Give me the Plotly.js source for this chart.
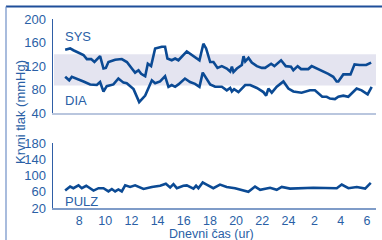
<!DOCTYPE html>
<html>
<head>
<meta charset="utf-8">
<script src="https://cdn.plot.ly/plotly-3.0.1.min.js"></script>
<style>html,body{margin:0;padding:0;background:#fff}#chart{width:382px;height:240px}</style>
</head>
<body>
<div id="chart"></div>
<script>
// Hour of day (continuous: 24+ means after midnight)
const sysHours = [6.93,7.31,7.56,7.75,8.0,8.33,8.59,8.92,9.17,9.43,9.6,9.86,10.04,10.24,10.75,11.26,11.65,12.03,12.28,12.54,12.74,13.05,13.25,13.5,13.81,14.32,14.57,14.75,15.08,15.34,15.59,16.23,16.74,17.2,17.5,17.71,18.02,18.27,18.58,18.91,19.29,19.55,19.68,19.8,20.06,20.44,20.57,20.7,20.95,21.2,21.59,21.97,22.22,22.47,22.68,22.93,23.44,23.8,24.2,24.38,24.71,24.97,25.52,25.78,26.29,27.05,27.43,27.69,27.82,28.2,28.5,28.75,29.06,29.44,29.95,30.33];
const sysValues = [148,150,147,145,143,139,132,132,127,133,137,116,117,127,131,132,127,116,109,113,107,103,124,120,150,153,153,133,130,133,130,145,137,130,158,150,127,127,117,120,116,111,119,110,116,122,137,128,134,126,120,117,117,121,124,120,130,120,119,113,120,115,115,120,115,107,102,94,94,106,106,106,123,122,122,126];

const diaHours = [6.93,7.24,7.44,7.82,8.33,8.84,9.35,9.6,9.86,10.11,10.62,11.0,11.39,11.64,12.16,12.59,13.05,13.56,13.81,14.19,14.57,14.83,15.08,15.34,15.59,16.09,16.48,16.86,17.2,17.45,17.71,18.02,18.4,18.91,19.29,19.55,19.68,19.85,20.18,20.7,21.08,21.59,22.09,22.3,22.47,22.73,23.11,23.62,24.0,24.38,25.01,25.65,26.03,26.59,26.93,27.18,27.56,27.82,28.2,28.58,29.22,29.6,30.06,30.37];
const diaValues = [102,96,102,99,94,89,88,93,77,86,89,99,92,91,81,59,70,96,91,94,103,85,88,85,89,99,93,90,85,109,99,89,85,85,79,83,77,81,76,88,88,83,76,70,82,75,85,94,82,77,75,79,79,68,68,65,64,68,70,68,82,79,72,85];

const pulseHours = [6.93,7.31,7.56,7.95,8.2,8.54,9.1,9.48,9.86,10.24,10.5,10.75,11.0,11.26,11.52,11.9,12.28,12.92,13.56,14.19,14.63,14.96,15.21,15.47,15.97,16.23,16.74,16.94,17.12,17.45,17.75,18.26,18.77,19.28,19.92,20.43,20.94,21.45,21.84,22.6,23.11,23.49,24.13,25.91,27.7,28.08,28.59,29.23,29.87,30.3];
const pulseValues = [63,73,69,76,69,75,63,69,69,61,67,61,66,61,76,72,76,67,72,75,80,71,79,69,75,76,68,75,69,83,78,69,78,72,69,64,60,73,65,70,65,72,68,70,69,78,69,72,68,82];

const tickVals = [8,10,12,14,16,18,20,22,24,26,28,30];
const tickText = ['8','10','12','14','16','18','20','22','24','2','4','6'];
const bandLow = 87, bandHigh = 140;

const lineColor = '#0b4a94';
const textColor = '#2a5fa6';
const fontFam = '"Liberation Sans Narrow", "Arial Narrow", "Liberation Sans", sans-serif';

const ln = {color: lineColor, width: 2.6};
const traces = [
  {x: sysHours, y: sysValues, xaxis: 'x', yaxis: 'y', mode: 'lines', line: ln, hoverinfo: 'skip'},
  {x: diaHours, y: diaValues, xaxis: 'x', yaxis: 'y', mode: 'lines', line: ln, hoverinfo: 'skip'},
  {x: pulseHours, y: pulseValues, xaxis: 'x2', yaxis: 'y2', mode: 'lines', line: ln, hoverinfo: 'skip'}
];

// pixel -> paper helpers (plot area x 53..376, y 19..208)
const L = 53, R = 6, T = 19, B = 32, W = 382, H = 240;
const pw = W - L - R, ph = H - T - B;
const px = v => (v - L) / pw;
const py = v => (H - B - v) / ph;

const layout = {
  width: W, height: H,
  margin: {l: L, r: R, t: T, b: B},
  paper_bgcolor: '#ffffff', plot_bgcolor: 'rgba(0,0,0,0)',
  showlegend: false,
  font: {family: fontFam, size: 13, color: textColor},
  xaxis: {domain: [0, 1], anchor: 'y', range: [6, 30.7], showgrid: false, zeroline: false,
          showticklabels: false, ticks: '', showline: true, linecolor: '#b9c6de', linewidth: 1.5},
  xaxis2: {domain: [0, 1], anchor: 'y2', matches: 'x', range: [6, 30.7], showgrid: false, zeroline: false,
           tickvals: tickVals, ticktext: tickText, ticks: '', showline: true, linecolor: '#7f9cc8', linewidth: 2,
           ticklabelstandoff: 0,
           tickfont: {family: fontFam, size: 12.5, color: textColor}},
  yaxis: {domain: [py(113.3), 1], anchor: 'x', range: [40, 200], tickvals: [40,80,120,160,200], showgrid: false, zeroline: false,
          ticks: '', showline: true, linecolor: '#2f5ea6', linewidth: 1.5, ticklabelstandoff: 3,
          tickfont: {family: fontFam, size: 13, color: textColor}},
  yaxis2: {domain: [0, py(143.3)], anchor: 'x2', range: [20, 180], tickvals: [20,60,100,140,180], showgrid: false, zeroline: false,
           ticks: '', showline: true, linecolor: '#2f5ea6', linewidth: 1.5, ticklabelstandoff: 3,
           tickfont: {family: fontFam, size: 13, color: textColor}},
  shapes: [
    {type: 'rect', xref: 'paper', yref: 'y', x0: px(54), x1: px(376), y0: bandLow, y1: bandHigh,
     fillcolor: '#e4e4f0', line: {width: 0}, layer: 'below'},
    {type: 'line', xref: 'paper', yref: 'paper', x0: px(6), x1: px(382), y0: py(6.5), y1: py(6.5),
     line: {color: '#1f4e9a', width: 2}},
    {type: 'line', xref: 'paper', yref: 'paper', x0: px(6), x1: px(6), y0: py(6.5), y1: py(240),
     line: {color: '#6f8fc6', width: 1.2}}
  ],
  annotations: [
    {text: 'SYS', xref: 'paper', yref: 'paper', x: px(63), y: py(36), xanchor: 'left', yanchor: 'middle', showarrow: false,
     font: {family: fontFam, size: 13, color: textColor}},
    {text: 'DIA', xref: 'paper', yref: 'paper', x: px(63), y: py(100), xanchor: 'left', yanchor: 'middle', showarrow: false,
     font: {family: fontFam, size: 13, color: textColor}},
    {text: 'PULZ', xref: 'paper', yref: 'paper', x: px(63), y: py(201), xanchor: 'left', yanchor: 'middle', showarrow: false,
     font: {family: fontFam, size: 13, color: textColor}},
    {text: 'Krvni tlak (mmHg)', xref: 'paper', yref: 'paper', x: px(20), y: py(112), textangle: -90,
     xanchor: 'center', yanchor: 'middle', showarrow: false, font: {family: fontFam, size: 13, color: textColor}},
    {text: 'Dnevni čas (ur)', xref: 'paper', yref: 'paper', x: px(211), y: py(233.5),
     xanchor: 'center', yanchor: 'middle', showarrow: false, borderpad: 0,
     font: {family: fontFam, size: 12.5, color: textColor}}
  ]
};

Plotly.newPlot('chart', traces, layout, {staticPlot: true, displayModeBar: false});
</script>
</body>
</html>
